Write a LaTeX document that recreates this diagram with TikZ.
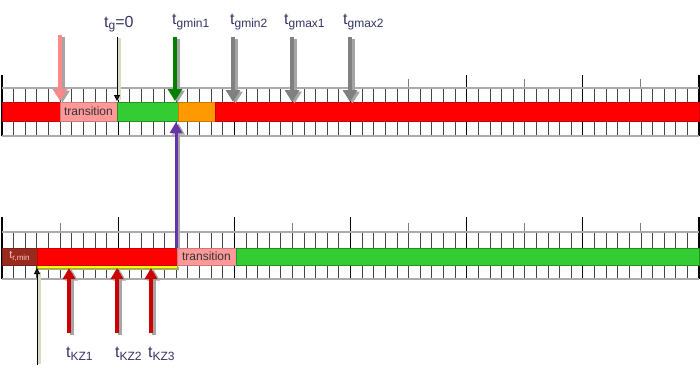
\documentclass[tikz,border=0pt]{standalone}
\usepackage{fontspec}
\setmainfont{Liberation Sans}
\usetikzlibrary{arrows.meta}
\definecolor{lblc}{RGB}{51,51,102}
\definecolor{barred}{RGB}{255,0,0}
\definecolor{trpink}{RGB}{255,153,153}
\definecolor{bargreen}{RGB}{51,204,51}
\definecolor{barorange}{RGB}{255,153,0}
\definecolor{trmin}{RGB}{153,43,30}
\definecolor{apink}{RGB}{255,136,136}
\definecolor{agreen}{RGB}{0,128,0}
\definecolor{agray}{RGB}{128,128,128}
\definecolor{shadowc}{RGB}{165,165,165}
\definecolor{apurple}{RGB}{102,51,170}
\definecolor{ared}{RGB}{204,0,0}
\definecolor{beige}{RGB}{218,218,196}
\definecolor{ayellow}{RGB}{255,255,0}
\definecolor{tipdark}{RGB}{70,30,60}
\definecolor{celldark}{RGB}{70,70,70}
\definecolor{hgray}{RGB}{170,170,170}
\newcommand\sbs[1]{\raisebox{-3.5pt}{\fontsize{12}{12}\selectfont #1}}
\tikzset{
  cellline/.style={draw=celldark, line width=0.8pt},
  majortick/.style={draw=black, line width=1.2pt},
  midtick/.style={draw=celldark!70, line width=1pt},
  hline/.style={draw=hgray, line width=1.3pt},
  barbox/.style={rectangle, inner sep=0pt, outer sep=0pt, anchor=north west, line width=0.6pt},
  trtext/.style={font=\fontsize{12}{12}\selectfont, text=black!80},
  lbl/.style={font=\fontsize{16}{16}\selectfont, text=lblc, inner sep=0pt, anchor=base west},
  fatarrow/.style={line width=4.5pt, -{Triangle[width=14pt,length=12pt]}},
  midarrow/.style={line width=3pt, -{Triangle[width=12pt,length=11pt]}},
  thinarrow/.style={line width=1pt, -{Triangle[width=6pt,length=6pt]}},
  shad/.style={transform canvas={shift={(2.5pt,-1.5pt)}}}
}
\begin{document}
\begin{tikzpicture}[x=1pt,y=-1pt]
\useasboundingbox[fill=white] (0,0) rectangle (700,375);
\def\cw{11.6167}
% ---- top ruler ----
\foreach \i in {0,...,60} \draw[cellline] ({2+\i*\cw},88) -- ({2+\i*\cw},136);
\foreach \i in {0,10,...,60} \draw[majortick] ({2+\i*\cw},75) -- ({2+\i*\cw},136);
\foreach \i in {5,15,...,55} \draw[midtick] ({2+\i*\cw},79) -- ({2+\i*\cw},88);
\draw[hline] (2,88) -- (699,88);
\draw[hline] (2,136) -- (699,136);
% top bars
\node[barbox, fill=barred, draw=barred!80!black, minimum width=58pt, minimum height=19pt] (tred1) at (2,102) {};
\node[barbox, fill=trpink, draw=trpink!80!black, minimum width=57pt, minimum height=19pt] (ttrans) at (60,102) {};
\node[trtext] (ttranstxt) at (ttrans.center) {transition};
\node[barbox, fill=bargreen, draw=bargreen!70!black, minimum width=61pt, minimum height=19pt] (tgreen) at (117,102) {};
\node[barbox, fill=barorange, draw=barorange!80!black, minimum width=37pt, minimum height=19pt] (torange) at (178,102) {};
\node[barbox, fill=barred, draw=barred!80!black, minimum width=484pt, minimum height=19pt] (tred2) at (215,102) {};
% ---- bottom ruler ----
\foreach \i in {0,...,60} \draw[cellline] ({2+\i*\cw},232) -- ({2+\i*\cw},279);
\foreach \i in {0,10,...,60} \draw[majortick] ({2+\i*\cw},217) -- ({2+\i*\cw},279);
\foreach \i in {5,15,...,55} \draw[midtick] ({2+\i*\cw},223) -- ({2+\i*\cw},232);
\draw[hline] (2,232) -- (699,232);
\draw[hline] (2,279) -- (699,279);
% bottom bars
\fill[shadowc] (38,267) rectangle (179,270);
\node[barbox, fill=ayellow, draw=ayellow!70!black, line width=0.4pt, minimum width=140pt, minimum height=3pt] (yel) at (37,265) {};
\node[barbox, fill=trmin, draw=trmin!80!black, minimum width=35pt, minimum height=17pt] (btrmin) at (2,248) {};
\node[font=\fontsize{11}{11}\selectfont, text=trpink!60!white, inner sep=0pt] (btrmintxt) at (btrmin.center) {t\raisebox{-2pt}{\fontsize{8}{8}\selectfont r,min}};
\node[barbox, fill=barred, draw=barred!80!black, minimum width=140pt, minimum height=17pt] (bred) at (37,248) {};
\node[barbox, fill=trpink, draw=trpink!80!black, minimum width=59pt, minimum height=17pt] (btrans) at (177,248) {};
\node[trtext] (btranstxt) at (btrans.center) {transition};
\node[barbox, fill=bargreen, draw=bargreen!70!black, minimum width=463pt, minimum height=17pt] (bgreen) at (236,248) {};
% ---- top labels ----
\node[lbl] (lg0) at (104,27) {t\raisebox{-2.5pt}{\fontsize{12}{12}\selectfont g}=0};
\node[lbl] (lgmin1) at (172,24) {t\sbs{gmin1}};
\node[lbl] (lgmin2) at (230,24) {t\sbs{gmin2}};
\node[lbl] (lgmax1) at (284,24) {t\sbs{gmax1}};
\node[lbl] (lgmax2) at (343,24) {t\sbs{gmax2}};
% ---- top arrows ----
\coordinate (ap0) at (60,35);   \coordinate (ap1) at (60,101);
\coordinate (ag0) at (117,37);  \coordinate (ag1) at (117,101);
\coordinate (am0) at (175,37);  \coordinate (am1) at (175,101);
\coordinate (an0) at (233,37);  \coordinate (an1) at (233,102);
\coordinate (ax0) at (292,37);  \coordinate (ax1) at (292,102);
\coordinate (ay0) at (350,37);  \coordinate (ay1) at (350,102);
\foreach \s/\e in {ap0/ap1,am0/am1,an0/an1,ax0/ax1,ay0/ay1}
  \draw[fatarrow, shadowc, shad] (\s) -- (\e);
\draw[fatarrow, apink] (ap0) -- (ap1);
\draw[fatarrow, agreen] (am0) -- (am1);
\draw[fatarrow, agray] (an0) -- (an1);
\draw[fatarrow, agray] (ax0) -- (ax1);
\draw[fatarrow, agray] (ay0) -- (ay1);
\draw[line width=3.5pt, beige] (119.5,38) -- (119.5,100);
\draw[thinarrow, black, -{Triangle[width=6pt,length=6pt,fill=tipdark]}] (ag0) -- (ag1);
% ---- purple arrow ----
\coordinate (pu0) at (176,248); \coordinate (pu1) at (176,122);
\draw[midarrow, shadowc, shad] (pu0) -- (pu1);
\draw[midarrow, apurple] (pu0) -- (pu1);
% ---- bottom arrows ----
\coordinate (bk0) at (37,365);  \coordinate (bk1) at (37,268);
\coordinate (k10) at (69,333);  \coordinate (k11) at (69,268);
\coordinate (k20) at (117,333); \coordinate (k21) at (117,268);
\coordinate (k30) at (151,333); \coordinate (k31) at (151,268);
\draw[line width=3.5pt, beige] (39.5,364) -- (39.5,272);
\draw[thinarrow, black, -{Triangle[width=6pt,length=6pt,fill=tipdark]}] (bk0) -- (bk1);
\foreach \s/\e in {k10/k11,k20/k21,k30/k31} {
  \draw[midarrow, line width=4pt, shadowc, shad] (\s) -- (\e);
  \draw[midarrow, line width=4pt, ared] (\s) -- (\e);
}
% ---- bottom labels ----
\node[lbl] (lkz1) at (66,357) {t\sbs{KZ1}};
\node[lbl] (lkz2) at (115,357) {t\sbs{KZ2}};
\node[lbl] (lkz3) at (148,357) {t\sbs{KZ3}};
\end{tikzpicture}
\end{document}
